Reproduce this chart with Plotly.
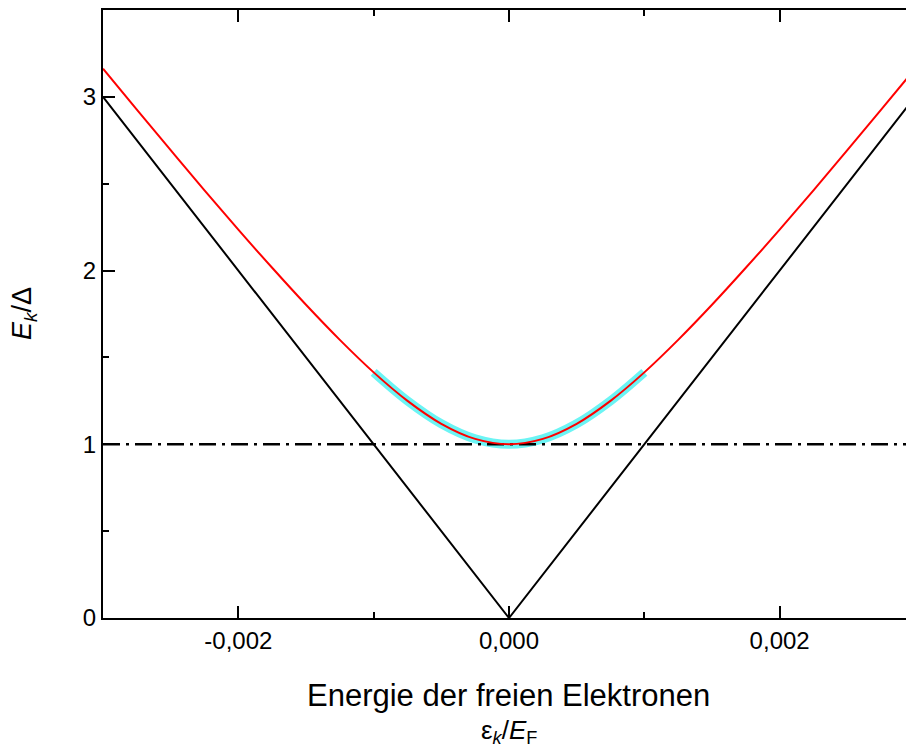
import plotly.graph_objects as go

# ---- data ----
# free-electron energy (black V): eps_k/E_F vs E_k/Delta
v_x = [-0.003, 0.0, 0.003]
v_y = [3.0, 0.0, 3.0]

# quasiparticle energy (red curve)
red_x = [-0.003, -0.00275, -0.0025, -0.00225, -0.002, -0.00175, -0.0015, -0.00125,
         -0.001, -0.00075, -0.0005, -0.00025, 0.0, 0.00025, 0.0005, 0.00075, 0.001,
         0.00125, 0.0015, 0.00175, 0.002, 0.00225, 0.0025, 0.00275, 0.003]
red_y = [3.162, 2.926, 2.693, 2.462, 2.236, 2.016, 1.803, 1.601,
         1.414, 1.250, 1.118, 1.031, 1.000, 1.031, 1.118, 1.250, 1.414,
         1.601, 1.803, 2.016, 2.236, 2.462, 2.693, 2.926, 3.162]

# highlighted region (cyan)
cyan_x = [-0.001, -0.00075, -0.0005, -0.00025, 0.0, 0.00025, 0.0005, 0.00075, 0.001]
cyan_y = [1.414, 1.250, 1.118, 1.031, 1.000, 1.031, 1.118, 1.250, 1.414]

# gap level (dash-dot)
gap_x = [-0.003, 0.003]
gap_y = [1.0, 1.0]

x_tickvals = [-0.002, 0.0, 0.002]
x_ticktext = ["-0,002", "0,000", "0,002"]
y_tickvals = [0, 1, 2, 3]
y_ticktext = ["0", "1", "2", "3"]

FONT = "Liberation Sans, Arial, sans-serif"

fig = go.Figure()
fig.add_trace(go.Scatter(x=cyan_x, y=cyan_y, mode="lines", line=dict(color="#6CF4F4", width=9, shape="spline"),
                         hoverinfo="skip"))
fig.add_trace(go.Scatter(x=gap_x, y=gap_y, mode="lines",
                         line=dict(color="black", width=2.5, dash="17px,6px,3px,6px")))
fig.add_trace(go.Scatter(x=v_x, y=v_y, mode="lines", line=dict(color="black", width=2)))
fig.add_trace(go.Scatter(x=red_x, y=red_y, mode="lines", line=dict(color="#FF0000", width=2, shape="spline")))

W, H = 906, 747
L, T, B = 103, 10, 129
# plot region continues past the right edge of the image
x_left = -0.003
px_per_unit = 135.33 / 0.001
x_right = x_left + (W - L) / px_per_unit

fig.update_layout(
    width=W, height=H,
    margin=dict(l=L, r=0, t=T, b=B),
    paper_bgcolor="white", plot_bgcolor="white",
    showlegend=False,
    font=dict(family=FONT, color="black"),
    xaxis=dict(range=[x_left, x_right], showgrid=False, zeroline=False,
               showline=True, linecolor="black", linewidth=2, mirror="ticks",
               ticks="inside", ticklen=12, tickwidth=2, tickcolor="black",
               tickvals=x_tickvals, ticktext=x_ticktext,
               tickfont=dict(size=24, family=FONT),
               minor=dict(tickvals=[-0.003, -0.001, 0.001, 0.003], ticks="inside", ticklen=6,
                          tickwidth=2, tickcolor="black")),
    yaxis=dict(range=[0, 3.5], showgrid=False, zeroline=False,
               showline=True, linecolor="black", linewidth=2, mirror=False,
               ticks="inside", ticklen=12, tickwidth=2, tickcolor="black",
               tickvals=y_tickvals, ticktext=y_ticktext,
               tickfont=dict(size=24, family=FONT),
               minor=dict(tickvals=[0.5, 1.5, 2.5, 3.5], ticks="inside", ticklen=6,
                          tickwidth=2, tickcolor="black")),
    annotations=[
        dict(text="Energie der freien Elektronen", xref="x", x=0, yref="paper", y=0,
             xanchor="center", yanchor="middle", yshift=-77, showarrow=False,
             font=dict(size=31, family=FONT)),
        dict(text="ε<sub><i>k</i></sub>/<i>E</i><sub>F</sub>", xref="x", x=0, yref="paper", y=0,
             xanchor="center", yanchor="middle", yshift=-113, showarrow=False,
             font=dict(size=26, family=FONT)),
        dict(text="<i>E</i><sub><i>k</i></sub>/Δ", xref="paper", x=0, yref="paper", y=0.5,
             xanchor="center", yanchor="middle", xshift=-79, textangle=-90, showarrow=False,
             font=dict(size=27, family=FONT)),
    ],
)

fig.write_html("out.html",
               config={"displayModeBar": False},
               post_script="document.body.style.margin='0';document.body.style.overflow='hidden';")
